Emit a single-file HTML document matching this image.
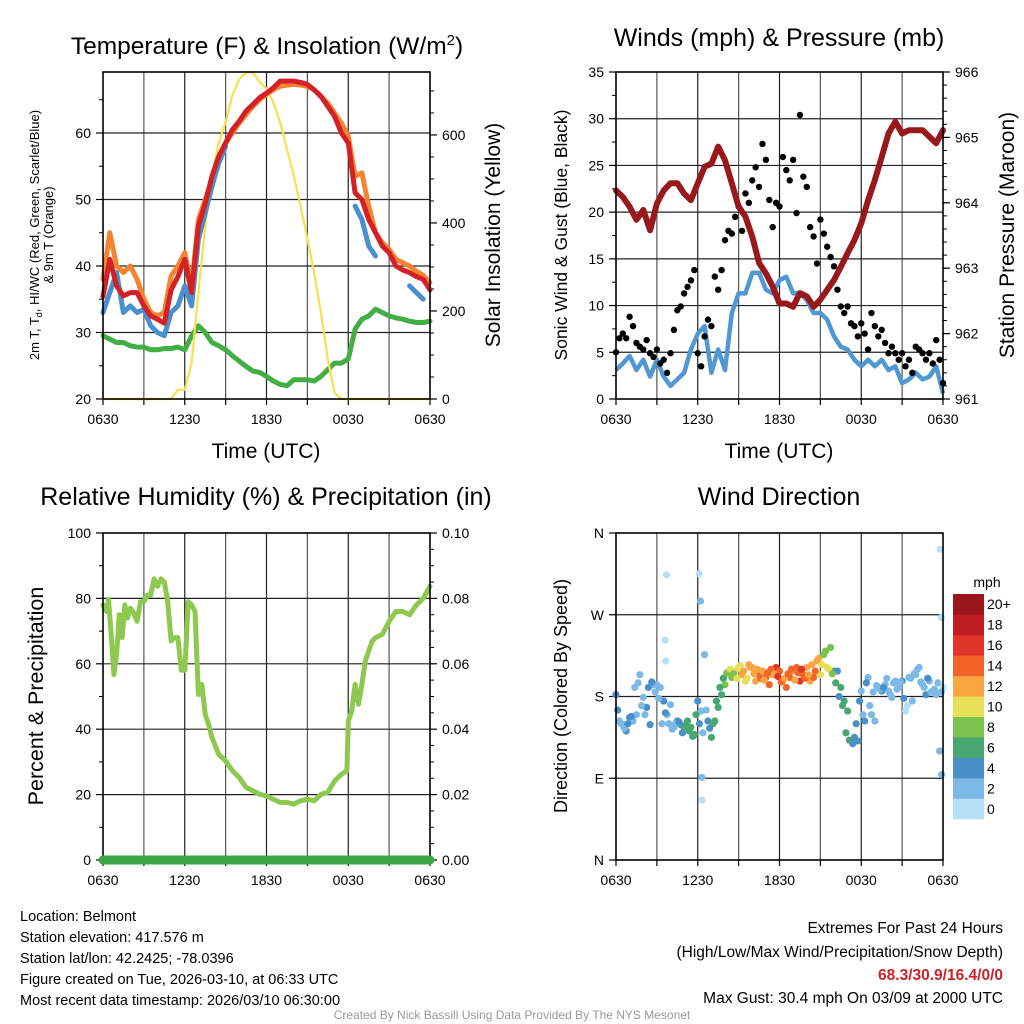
<!DOCTYPE html>
<html><head><meta charset="utf-8"><style>
body{margin:0;background:#fff;}
svg{display:block;font-family:"Liberation Sans",Arial,sans-serif;}
</style></head><body>
<svg id="root" width="1024" height="1024" viewBox="0 0 1024 1024" xmlns="http://www.w3.org/2000/svg">
<rect width="1024" height="1024" fill="#fff"/>
<text x="267" y="54" font-size="24.5" text-anchor="middle">Temperature (F) &amp; Insolation (W/m<tspan font-size="15" dy="-9">2</tspan><tspan dy="9">)</tspan></text>
<text x="779" y="46" font-size="25" text-anchor="middle">Winds (mph) &amp; Pressure (mb)</text>
<text x="266" y="505" font-size="25" text-anchor="middle">Relative Humidity (%) &amp; Precipitation (in)</text>
<text x="779" y="505" font-size="25" text-anchor="middle">Wind Direction</text>
<text x="266" y="458" font-size="21" text-anchor="middle">Time (UTC)</text>
<text x="779" y="458" font-size="21" text-anchor="middle">Time (UTC)</text>
<text transform="translate(39,235) rotate(-90)" font-size="13" text-anchor="middle">2m T, T<tspan font-size="9" dy="3">d</tspan><tspan dy="-3">, HI/WC (Red, Green, Scarlet/Blue)</tspan></text>
<text transform="translate(53,235) rotate(-90)" font-size="13" text-anchor="middle">&amp; 9m T (Orange)</text>
<text transform="translate(500,235) rotate(-90)" font-size="21" text-anchor="middle">Solar Insolation (Yellow)</text>
<text transform="translate(567,235) rotate(-90)" font-size="17.5" text-anchor="middle">Sonic Wind &amp; Gust (Blue, Black)</text>
<text transform="translate(1014,235) rotate(-90)" font-size="21" text-anchor="middle">Station Pressure (Maroon)</text>
<text transform="translate(43,696) rotate(-90)" font-size="21.5" text-anchor="middle">Percent &amp; Precipitation</text>
<text transform="translate(567,696) rotate(-90)" font-size="18" text-anchor="middle">Direction (Colored By Speed)</text>
<g font-size="14.5">
<text x="20" y="921">Location: Belmont</text>
<text x="20" y="942">Station elevation: 417.576 m</text>
<text x="20" y="963">Station lat/lon: 42.2425; -78.0396</text>
<text x="20" y="984">Figure created on Tue, 2026-03-10, at 06:33 UTC</text>
<text x="20" y="1005">Most recent data timestamp: 2026/03/10 06:30:00</text>
</g>
<g font-size="15.5" text-anchor="end">
<text x="1003" y="933">Extremes For Past 24 Hours</text>
<text x="1003" y="957">(High/Low/Max Wind/Precipitation/Snow Depth)</text>
<text x="1003" y="980" fill="#cc2229" font-weight="bold">68.3/30.9/16.4/0/0</text>
<text x="1003" y="1003">Max Gust: 30.4 mph On 03/09 at 2000 UTC</text>
</g>
<text x="512" y="1019" font-size="12" fill="#999" text-anchor="middle">Created By Nick Bassill Using Data Provided By The NYS Mesonet</text>
<text x="987" y="587" font-size="14" text-anchor="middle">mph</text>
</svg>
<script>
// ---------- data ----------
const halfHours = [0,0.5,1,1.5,2,2.5,3,3.5,4,4.5,5,5.5,6,6.5,7,7.5,8,8.5,9,9.5,10,10.5,11,11.5,12,12.5,13,13.5,14,14.5,15,15.5,16,16.5,17,17.5,18,18.5,19,19.5,20,20.5,21,21.5,22,22.5,23,23.5,24];
const temp2m = [35.4,41,37,35.5,36,36,34,32.5,32,31.4,36.4,38.4,41,36,46,49.4,53.5,56.5,58.5,60.5,61.8,63.3,64.3,65.3,66,66.8,67.8,67.8,67.8,67.6,67.3,66.5,65.5,64,62.5,60,58.5,51,50,47,45,43,42,40,39.4,39,38.4,38,36.4];
const temp9m = [38,45,40,39,40,38,35,33,32.5,33,38.5,40,42,37,47,50,53,56,58.5,60,61.5,62.8,64,65,65.8,66.5,67,67.2,67.3,67.2,67,66.5,65.5,64.5,63,61.5,59.5,53.5,54,49,45,43.5,42.5,41,40.5,40,39.2,38.6,37.5];
const heatIndex = [33,36,39,33,34,33,33.5,31,30,29.5,33,34,37,34,44,48,52,55.5,58,null,null,null,null,null,null,null,null,null,null,null,null,null,null,null,null,null,null,49,47,43,41.5,null,null,null,null,37,36,35,null];
const dewPoint = [29.5,29,28.5,28.5,28,27.8,27.8,27.4,27.4,27.6,27.6,27.8,27.4,29.5,31,30,28.5,28,27.4,26.5,25.7,24.9,24.2,24,23.4,22.7,22.2,22,22.9,22.9,22.9,22.7,23.4,24.4,25.4,25.4,26,30.5,32,32.5,33.5,33,32.5,32.2,32,31.7,31.5,31.5,31.7];
const solar = [0,0,0,0,0,0,0,0,0,0,0,21,21,82,241,393,507,583,629,690,727,742,742,720,705,674,629,568,507,439,363,287,196,90,14,0,0,0,0,0,0,0,0,0,0,0,0,0,0];
const pressure = [964.19,964.09,963.94,963.74,963.89,963.58,963.99,964.19,964.3,964.3,964.14,964.04,964.3,964.55,964.6,964.86,964.65,964.3,963.94,963.79,963.48,963.08,962.92,962.72,962.46,962.46,962.41,962.62,962.57,962.41,962.52,962.67,962.82,963.02,963.23,963.43,963.69,964.04,964.35,964.7,965.06,965.24,965.06,965.11,965.11,965.11,965.01,964.91,965.11];
const windSpeed = [3.1,3.8,4.6,3.1,4.2,2.4,4.2,2.4,1.4,2.1,2.8,5.3,7,7.8,2.8,5.3,3.1,9.2,11.3,11.3,13.5,13.5,11.7,11.3,12.7,13.1,11.3,11.3,10.6,9.2,9.2,8.5,6.7,5.6,5.3,4.2,3.5,4.2,3.5,4.2,3.1,3.5,1.7,2.1,2.8,2.1,2.4,3.5,0.6];
const gusts = [5,6.5,7,6.5,8.8,7.8,6,5.6,5.3,6.3,4.9,4.5,5.3,3.8,4.2,2.8,4.9,7.4,9.5,9.9,11.3,12,12.7,13.8,4.9,3.5,6.7,8.5,7.8,13.1,11.7,13.8,17,18,17.7,19.5,20.6,18,22,21,23.4,24.8,22.7,27.3,25.6,21.3,18.4,21,20.6,25.9,24.5,23.4,25.6,19.9,30.4,23.8,22.7,18.4,17.4,14.5,19.2,17.7,16.3,15.2,14.2,11.7,9.9,9.2,9.9,8.1,7.8,6.7,8.1,7,5.3,9.2,7.8,6.7,7.4,6,4.9,5.6,4.9,4.2,4.9,3.5,4.2,2.8,5.6,5.3,4.9,4.2,4.9,3.8,6.3,4.2,1.7];
const rhHours = [0,0.25,0.4,0.6,0.8,1,1.2,1.4,1.6,1.8,2,2.2,2.5,2.75,3,3.25,3.5,3.75,4,4.25,4.5,4.75,5,5.25,5.5,5.75,6,6.25,6.5,6.75,7,7.25,7.5,7.75,8,8.5,9,9.5,10,10.5,11,11.5,12,12.5,13,13.5,14,14.5,15,15.5,16,16.5,17,17.5,17.9,18,18.25,18.5,18.75,19,19.25,19.5,19.75,20,20.5,21,21.5,22,22.5,23,23.5,24];
const rh = [78,76,79.7,69,56.7,63,75,68,78,74,77,76,73,79,79,81,81,86,83.7,86,85,79,67,68,68,58,58,79,78,76,50.6,53.7,44.6,41.5,37.4,32.3,30.3,27.3,25.2,22.2,21.2,20.1,19.6,18.6,17.6,17.6,17.1,18.1,18.6,18.1,20.1,20.7,24.2,26.2,27.3,42.5,45.6,53.7,47.6,53.7,60.8,63.9,66.9,68,69,73,76,76,75,78,80,83.7];
const precip = [0,0,0,0,0,0,0,0,0,0,0,0,0,0,0,0,0,0,0,0,0,0,0,0,0,0,0,0,0,0,0,0,0,0,0,0,0,0,0,0,0,0,0,0,0,0,0,0,0];
const dirA = [182,153,149,142,157,153,160,204,179,168,149,193,193,190,175,160,171,146,153,149,146,153,146,138,175,164,226,153,135,153,168,182,193,204,201,208,212,204,197,215,212,197,204,208,201,193,204,212,208,197,190,201,208,212,197,204,212,197,201,219,204,226,212,234,208,208,190,175,164,131,135,131,186,153,201,160,153,190,186,193,186,179,197,190,197,164,201,175,204,212,193,182,197,186,182,120,190];
const dirB = [165,150,145,150,158,190,195,170,160,190,196,185,178,150,162,150,144,150,152,140,148,142,136,160,150,140,165,145,150,175,190,200,206,210,205,200,214,208,200,212,205,210,200,198,206,210,205,202,196,200,205,210,198,206,210,200,204,215,208,222,215,230,210,205,195,180,170,140,132,128,150,175,160,195,170,185,192,188,190,200,182,195,188,196,178,170,200,205,210,196,190,200,185,188,195,185];
const dirSpeed = [4,3,3,5,4,3,3,3,3,4,5,3,3,3,4,3,3,3,4,5,6,7,6,7,5,2,3,4,6,7,6,7,8,10,9,11,10,12,11,13,12,13,14,13,15,14,13,16,14,13,15,14,12,15,17,14,13,12,14,13,10,9,11,8,7,5,6,7,6,5,4,5,3,4,3,2,3,3,5,3,3,3,2,3,4,1,3,3,2,3,3,4,3,3,3,2,1];
const outlierHours = [3.6,3.65,3.7,6.1,6.2,6.3,6.3,23.8,23.9,23.9];
const outlierDirs = [242,219,314,315,285,91,66,342,267,94];
const outlierSpeeds = [1,1,1,1,2,3,1,1,1,2];
const xTickLabels = ['0630','1230','1830','0030','0630'];
const dirTickLabels = ['N','E','S','W','N'];
const barLabels = ['0','2','4','6','8','10','12','14','16','18','20+'];
const barColors = ['#b5e0f5','#7cb9e6','#4a8fc8','#48a671','#7ac14f','#e6e058','#f8a642','#f26427','#e0362a','#c01d24','#9a161b'];

// ---------- helpers ----------
const NS='http://www.w3.org/2000/svg';
const root=document.getElementById('root');
function mk(tag,attrs,name,parent){
  const el=document.createElementNS(NS,tag);
  for(const k in attrs) el.setAttribute(k,attrs[k]);
  
  
  (parent||root).appendChild(el);
  return el;
}
function lin(d0,d1,r0,r1){return v=>r0+(v-d0)/(d1-d0)*(r1-r0);}

function panel(p){
  const g=mk('g',{},p.name+'-panel');
  const xs=lin(0,24,p.x0,p.x1);
  for(let h=3;h<24;h+=3){
    mk('line',{x1:xs(h),x2:xs(h),y1:p.y0,y2:p.y1,stroke:(h%6==0)?'#222':'#555','stroke-width':1.2},p.name+'-vgrid',g);
  }
  for(let h=0;h<=24;h+=3){
    mk('line',{x1:xs(h),x2:xs(h),y1:p.y1,y2:p.y1+6,stroke:'#000','stroke-width':1.2},p.name+'-x-tick',g);
  }
  xTickLabels.forEach((t,i)=>{
    const el=mk('text',{x:xs(i*6),y:p.y1+25,'font-size':14,'text-anchor':'middle'},p.name+'-x-label',g);
    el.textContent=t;
  });
  const ys=lin(p.lmin,p.lmax,p.y1,p.y0);
  p.lgrid.forEach(v=>{
    if(v>p.lmin && v<p.lmax) mk('line',{x1:p.x0,x2:p.x1,y1:ys(v),y2:ys(v),stroke:'#222','stroke-width':1.2},p.name+'-hgrid',g);
  });
  p.lticks.forEach((v,i)=>{
    mk('line',{x1:p.x0-7,x2:p.x0,y1:ys(v),y2:ys(v),stroke:'#000','stroke-width':1.2},p.name+'-y-tick',g);
    const el=mk('text',{x:p.x0-12,y:ys(v)+5,'font-size':14,'text-anchor':'end'},p.name+'-y-label',g);
    el.textContent=p.llabels?p.llabels[i]:v;
  });
  (p.lminor||[]).forEach(v=>{
    mk('line',{x1:p.x0-4,x2:p.x0,y1:ys(v),y2:ys(v),stroke:'#000','stroke-width':1},p.name+'-y-minor-tick',g);
  });
  if(p.rticks){
    const rs=lin(p.rmin,p.rmax,p.y1,p.y0);
    p.rticks.forEach((v,i)=>{
      mk('line',{x1:p.x1,x2:p.x1+7,y1:rs(v),y2:rs(v),stroke:'#000','stroke-width':1.2},p.name+'-right-tick',g);
      const el=mk('text',{x:p.x1+12,y:rs(v)+5,'font-size':14},p.name+'-right-label',g);
      el.textContent=p.rlabels[i];
    });
    (p.rminor||[]).forEach(v=>{
      mk('line',{x1:p.x1,x2:p.x1+4,y1:rs(v),y2:rs(v),stroke:'#000','stroke-width':1},p.name+'-right-minor-tick',g);
    });
  }
  return {xs,ys,g};
}
function frame(p){
  mk('rect',{x:p.x0,y:p.y0,width:p.x1-p.x0,height:p.y1-p.y0,fill:'none',stroke:'#000','stroke-width':1.6},p.name+'-frame');
}
function pathOf(xsArr,vals,xs,ys){
  let d='',pen=false;
  vals.forEach((v,i)=>{
    if(v===null||v===undefined){pen=false;return;}
    d+=(pen?'L':'M')+xs(xsArr[i]).toFixed(1)+','+ys(v).toFixed(1);
    pen=true;
  });
  return d;
}
function rng(a,b,s){const r=[];for(let v=a;v<=b+1e-9;v+=s)r.push(+v.toFixed(4));return r;}

// ---------- panel 1: temperature ----------
const P1={name:'temperature',x0:103,x1:430,y0:72,y1:399,lmin:20,lmax:69.17,lgrid:[30,40,50,60],lticks:[20,30,40,50,60],lminor:[25,35,45,55,65],rmin:0,rmax:743,rticks:[0,200,400,600],rlabels:['0','200','400','600'],rminor:[50,100,150,250,300,350,450,500,550,650,700]};
const a1=panel(P1);
const s1=lin(P1.rmin,P1.rmax,P1.y1,P1.y0);
mk('path',{d:pathOf(halfHours,dewPoint,a1.xs,a1.ys),fill:'none',stroke:'#43ae43','stroke-width':5,'stroke-linejoin':'round','stroke-linecap':'round'},'dewpoint-line');
mk('path',{d:pathOf(halfHours,solar,a1.xs,s1),fill:'none',stroke:'#f6e04d','stroke-width':2.2,'stroke-linejoin':'round'},'solar-insolation-line');
mk('path',{d:pathOf(halfHours,temp9m,a1.xs,a1.ys),fill:'none',stroke:'#f58330','stroke-width':5,'stroke-linejoin':'round','stroke-linecap':'round'},'temp-9m-line');
mk('path',{d:pathOf(halfHours,heatIndex,a1.xs,a1.ys),fill:'none',stroke:'#4990cc','stroke-width':5,'stroke-linejoin':'round','stroke-linecap':'round'},'heat-index-line');
mk('path',{d:pathOf(halfHours,temp2m,a1.xs,a1.ys),fill:'none',stroke:'#d42027','stroke-width':5,'stroke-linejoin':'round','stroke-linecap':'round'},'temp-2m-line');
frame(P1);

// ---------- panel 2: winds ----------
const P2={name:'winds',x0:616,x1:943,y0:72,y1:399,lmin:0,lmax:35,lgrid:[5,10,15,20,25,30],lticks:[0,5,10,15,20,25,30,35],lminor:[2.5,7.5,12.5,17.5,22.5,27.5,32.5],rmin:961,rmax:966,rticks:[961,962,963,964,965,966],rlabels:['961','962','963','964','965','966'],rminor:rng(961.2,965.8,0.2)};
const a2=panel(P2);
const s2=lin(961,966,P2.y1,P2.y0);
mk('path',{d:pathOf(halfHours,windSpeed,a2.xs,a2.ys),fill:'none',stroke:'#5098d3','stroke-width':4.5,'stroke-linejoin':'round'},'wind-speed-line');
const gustHours=gusts.map((v,i)=>i*0.25);
gusts.forEach((v,i)=>{
  mk('circle',{cx:a2.xs(gustHours[i]),cy:a2.ys(v),r:3.2,fill:'#000'},'gust-point');
});
mk('path',{d:pathOf(halfHours,pressure,a2.xs,s2),fill:'none',stroke:'#99181b','stroke-width':6,'stroke-linejoin':'round','stroke-linecap':'round'},'pressure-line');
frame(P2);

// ---------- panel 3: humidity ----------
const P3={name:'humidity',x0:103,x1:430,y0:533,y1:860,lmin:0,lmax:100,lgrid:[20,40,60,80],lticks:[0,20,40,60,80,100],lminor:[10,30,50,70,90],rmin:0,rmax:0.1,rticks:[0,0.02,0.04,0.06,0.08,0.1],rlabels:['0.00','0.02','0.04','0.06','0.08','0.10'],rminor:[0.005,0.01,0.015,0.025,0.03,0.035,0.045,0.05,0.055,0.065,0.07,0.075,0.085,0.09,0.095]};
const a3=panel(P3);
const s3=lin(0,0.1,P3.y1,P3.y0);
mk('path',{d:pathOf(rhHours,rh,a3.xs,a3.ys),fill:'none',stroke:'#8dc94f','stroke-width':5,'stroke-linejoin':'round','stroke-linecap':'round'},'relative-humidity-line');
frame(P3);
mk('path',{d:pathOf(halfHours,precip,a3.xs,s3),fill:'none',stroke:'#3aa845','stroke-width':9,'stroke-linecap':'round'},'precipitation-line');

// ---------- panel 4: wind direction ----------
const P4={name:'direction',x0:616,x1:943,y0:533,y1:860,lmin:0,lmax:360,lgrid:[90,180,270],lticks:[0,90,180,270,360],llabels:dirTickLabels,lminor:[]};
const a4=panel(P4);
function spColor(s){return barColors[Math.min(10,Math.max(0,Math.floor(s/2)))];}
dirA.forEach((d,i)=>{
  mk('circle',{cx:a4.xs(i*0.25),cy:a4.ys(d),r:3.6,fill:spColor(dirSpeed[i])},'direction-point');
});
dirB.forEach((d,i)=>{
  mk('circle',{cx:a4.xs(0.125+i*0.25),cy:a4.ys(d),r:3.6,fill:spColor(dirSpeed[i])},'direction-point');
});
outlierDirs.forEach((d,i)=>{
  mk('circle',{cx:a4.xs(outlierHours[i]),cy:a4.ys(d),r:3.6,fill:spColor(outlierSpeeds[i])},'direction-outlier-point');
});
frame(P4);

// ---------- colorbar ----------
const cb=mk('g',{},'speed-colorbar');
const cbTop=594,cbH=225/11;
barColors.forEach((c,i)=>{
  const y=cbTop+(10-i)*cbH;
  mk('rect',{x:953,y:y,width:31,height:cbH+0.3,fill:c},'colorbar-box',cb);
  const t=mk('text',{x:987,y:y+cbH/2+5,'font-size':14,'text-anchor':'start'},'colorbar-label',cb);
  t.textContent=barLabels[i];
});
</script>
</body></html>
